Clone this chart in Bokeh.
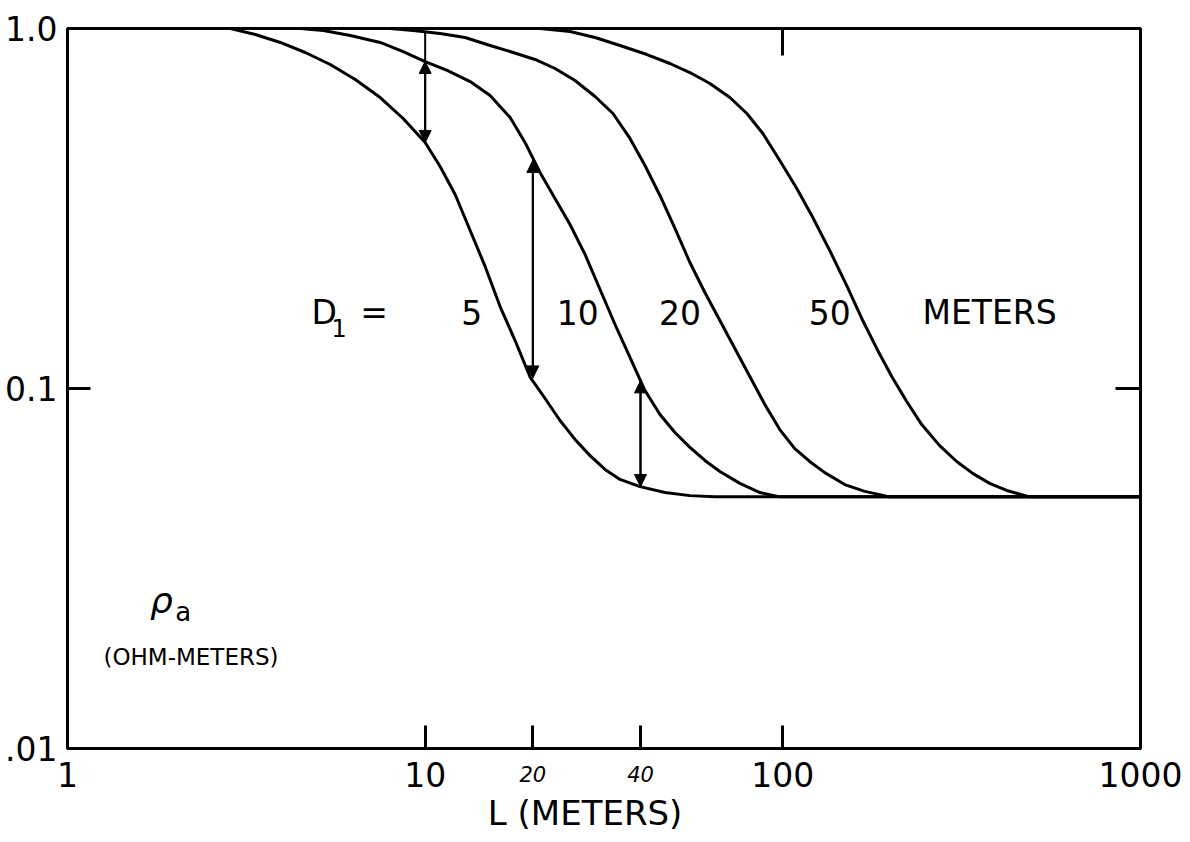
from bokeh.plotting import figure
from bokeh.models import (FixedTicker, LogAxis, Arrow, NormalHead,
                          ColumnDataSource)
from bokeh.core.properties import value
from bokeh.embed import file_html
from bokeh.resources import INLINE

# Apparent resistivity (ohm-m) versus electrode spacing L (m)
# for four depths D1 of the upper layer.
depths = [5, 10, 20, 50]

L_d5 = [2.853, 3.351, 3.936, 4.622, 5.427, 6.376, 7.487, 8.679, 10.0, 11.01,
        12.13, 13.36, 14.71, 16.20, 17.84, 19.65, 21.64, 23.83, 26.24, 28.91,
        31.83, 35.05, 39.87, 46.82, 54.98, 64.57, 1000]
rho_d5 = [1.0, 0.9624, 0.9145, 0.8577, 0.7943, 0.7217, 0.6431, 0.5623, 0.4825,
          0.4136, 0.3458, 0.2748, 0.2183, 0.1689, 0.1359, 0.1076, 0.0938,
          0.0815, 0.0722, 0.0651, 0.0596, 0.0559, 0.0534, 0.0514, 0.0504,
          0.05, 0.05]

L_d10 = [4.475, 5.189, 6.173, 7.487, 8.679, 10.0, 11.52, 13.36, 15.19, 17.28,
         19.02, 20.95, 23.07, 25.41, 27.99, 30.83, 33.95, 37.38, 41.17, 45.34,
         49.93, 54.98, 60.55, 66.68, 75.86, 86.3, 98.1, 1000]
rho_d10 = [1.0, 0.9873, 0.9562, 0.9145, 0.8630, 0.8096, 0.7647, 0.7122, 0.6514,
           0.5659, 0.4825, 0.3981, 0.3371, 0.2854, 0.2357, 0.1884, 0.1506,
           0.1220, 0.0987, 0.0847, 0.0755, 0.0686, 0.0631, 0.0588, 0.0545,
           0.0514, 0.05, 0.05]

L_d20 = [7.985, 9.258, 11.01, 12.93, 15.19, 17.62, 20.29, 23.07, 26.24, 29.85,
         33.50, 37.38, 41.17, 45.34, 49.93, 54.98, 60.55, 66.68, 73.43, 80.86,
         89.05, 98.07, 108.0, 118.9, 131.0, 149.0, 169.5, 199.0, 1000]
rho_d20 = [1.0, 0.9873, 0.9685, 0.9441, 0.8970, 0.8577, 0.8202, 0.7743, 0.7170,
           0.6472, 0.5806, 0.4950, 0.4163, 0.3437, 0.2783, 0.2239, 0.1848,
           0.1545, 0.1292, 0.1080, 0.0903, 0.0769, 0.0681, 0.0627, 0.0584,
           0.0541, 0.0518, 0.05, 0.05]

L_d50 = [20.95, 25.41, 29.85, 35.05, 41.70, 48.34, 54.98, 62.53, 71.12, 79.34,
         87.93, 98.07, 109.4, 121.3, 135.3, 150.9, 166.2, 183.0, 201.6, 222.0,
         244.5, 274.5, 306.2, 339.5, 378.6, 422.5, 489.8, 1000]
rho_d50 = [1.0, 0.9810, 0.9441, 0.8970, 0.8466, 0.7994, 0.7546, 0.7035, 0.6431,
           0.5806, 0.5109, 0.4299, 0.3594, 0.2985, 0.2416, 0.1932, 0.1565,
           0.1292, 0.1080, 0.0920, 0.0794, 0.0694, 0.0627, 0.0581, 0.0545,
           0.0521, 0.05, 0.05]

curves = [(L_d5, rho_d5), (L_d10, rho_d10), (L_d20, rho_d20), (L_d50, rho_d50)]

# Differences between neighbouring curves at fixed spacings
arrow_L = [10, 20, 40]
arrow_top = [0.98, 0.43, 0.105]
arrow_high = [0.81, 0.43, 0.105]
arrow_low = [0.4825, 0.107, 0.0534]

# Axis ticks and their labels
x_ticks = [1, 10, 20, 40, 100, 1000]
x_tick_labels = ["1", "10", "20", "40", "100", "1000"]
x_small_ticks = [20, 40]          # hand-lettered, smaller labels
y_ticks = [0.01, 0.1, 1.0]
y_tick_labels = [".01", "0.1", "1.0"]

# Curve annotations: position of each depth label
depth_label_L = [13.5, 26.7, 51.6, 135.3]
depth_label_rho = 0.163

x_title = "L (METERS)"
x_title_at = 28.0                 # L value under the centre of the title

FONT = "DejaVu Sans"
BIG = "33px"

p = figure(width=1190, height=842, x_axis_type="log", y_axis_type="log",
           x_range=(1, 1000), y_range=(0.01, 1.0),
           output_backend="svg", toolbar_location=None,
           min_border_left=67, min_border_right=50,
           min_border_top=28, min_border_bottom=94,
           background_fill_color="white", border_fill_color="white")
p.grid.visible = False
p.outline_line_color = "black"
p.outline_line_width = 3
p.outline_line_alpha = 1.0


def style_axis(ax, ticks, tick_len, overrides, font_size=BIG, standoff=13,
               italic=False):
    ax.ticker = FixedTicker(ticks=ticks, minor_ticks=[])
    ax.axis_line_color = None
    ax.major_tick_in = tick_len
    ax.major_tick_out = 0
    ax.major_tick_line_width = 3
    ax.major_tick_line_color = "black" if tick_len > 0 else None
    ax.minor_tick_line_color = None
    ax.major_label_overrides = overrides
    ax.major_label_text_font = FONT
    ax.major_label_text_font_size = font_size
    ax.major_label_text_font_style = "italic" if italic else "normal"
    ax.major_label_text_color = "black"
    ax.major_label_standoff = standoff


# bottom axis: ticks and the main labels
x_over = {t: ("" if t in x_small_ticks else lab)
          for t, lab in zip(x_ticks, x_tick_labels)}
style_axis(p.xaxis[0], x_ticks, 23, x_over)

# smaller labels for 20 and 40, pulled up onto the row of the main labels
small_axis = LogAxis()
style_axis(small_axis, x_small_ticks, 0,
           {t: lab for t, lab in zip(x_ticks, x_tick_labels) if t in x_small_ticks},
           font_size="21px", standoff=-24, italic=True)
p.add_layout(small_axis, "below")

# x-axis title, centred at x_title_at
title_axis = LogAxis()
style_axis(title_axis, [x_title_at], 0, {x_title_at: x_title},
           font_size="34px", standoff=3)
p.add_layout(title_axis, "below")

y_over = {t: lab for t, lab in zip(y_ticks, y_tick_labels)}
style_axis(p.yaxis[0], y_ticks, 23, y_over, standoff=10)

top_axis = LogAxis()
style_axis(top_axis, [100], 27, {100: ""}, font_size="1px", standoff=0)
p.add_layout(top_axis, "above")

right_axis = LogAxis()
style_axis(right_axis, [0.1], 25, {0.1: ""}, font_size="1px", standoff=0)
p.add_layout(right_axis, "right")

# the four resistivity curves
for L, rho in curves:
    p.line(L, rho, line_width=3, line_color="black", line_join="round",
           line_cap="round")

# vertical difference arrows
arr_src = ColumnDataSource(dict(x=arrow_L, top=arrow_top, high=arrow_high,
                                low=arrow_low))
p.add_layout(Arrow(end=NormalHead(size=12, line_color="black", fill_color="black"),
                   x_start="x", y_start="top", x_end="x", y_end="low",
                   line_width=2, line_color="black", source=arr_src))
p.add_layout(Arrow(end=NormalHead(size=12, line_color="black", fill_color="black"),
                   x_start="x", y_start="low", x_end="x", y_end="high",
                   line_width=2, line_color="black", source=arr_src))

# depth labels: D1 = 5 10 20 50 METERS
p.text(x=depth_label_L, y=[depth_label_rho] * len(depths),
       text=[str(d) for d in depths],
       text_font=value(FONT), text_font_size=BIG, text_color="black",
       text_align="center", text_baseline="middle")
p.text(x=[5.22, 7.2, 378.6], y=[depth_label_rho] * 3, text=["D", "=", "METERS"],
       text_font=value(FONT), text_font_size=BIG, text_color="black",
       text_align="center", text_baseline="middle")
p.text(x=[5.75], y=[0.1468], text=["1"],
       text_font=value(FONT), text_font_size="24px", text_color="black",
       text_align="center", text_baseline="middle")

# y-axis title inside the frame
p.text(x=[1.83], y=[0.0258], text=["ρ"],
       text_font=value(FONT), text_font_size="36px", text_font_style="italic",
       text_color="black", text_align="center", text_baseline="alphabetic")
p.text(x=[2.0], y=[0.0240], text=["a"],
       text_font=value(FONT), text_font_size="26px",
       text_color="black", text_align="left", text_baseline="alphabetic")
p.text(x=[1.2606], y=[0.0180], text=["(OHM-METERS)"],
       text_font=value(FONT), text_font_size="23px",
       text_color="black", text_align="left", text_baseline="middle")

open("out.html", "w").write(file_html(p, INLINE))
